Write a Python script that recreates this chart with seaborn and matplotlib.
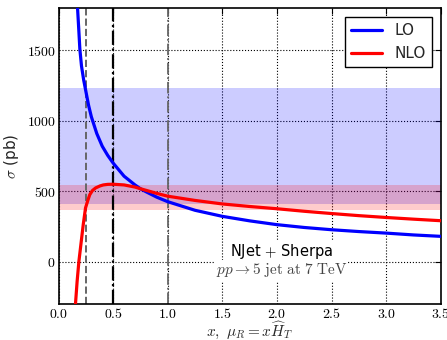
import matplotlib
matplotlib.use("Agg")
import matplotlib.pyplot as plt
import seaborn as sns
import pandas as pd
from matplotlib.ticker import FuncFormatter, MultipleLocator

# scale factor x and cross sections in pb
x_lo = [0.174, 0.185, 0.195, 0.21, 0.23, 0.25, 0.275, 0.3, 0.35, 0.4, 0.45,
        0.5, 0.6, 0.7, 0.75, 0.8, 0.9, 1.0, 1.25, 1.5, 1.75, 2.0, 2.25,
        2.5, 2.75, 3.0, 3.25, 3.5]
sigma_lo = [1800, 1650, 1510, 1390, 1290, 1210, 1110, 1030, 910, 820, 755,
            700, 607, 545, 518, 497, 458, 426, 365, 322, 290, 263, 243,
            227, 214, 203, 190, 180]

x_nlo = [0.155, 0.17, 0.186, 0.208, 0.226, 0.247, 0.27, 0.286, 0.31, 0.34,
         0.38, 0.41, 0.45, 0.5, 0.6, 0.7, 0.75, 0.8, 0.9, 1.0, 1.25, 1.5,
         1.75, 2.0, 2.25, 2.5, 2.75, 3.0, 3.25, 3.5]
sigma_nlo = [-300, -140, 0, 145, 263, 382, 440, 476, 505, 524,
             538, 545, 549, 550, 545, 530, 518, 507, 485, 465, 435, 410,
             392, 376, 358, 342, 327, 314, 302, 291]

# scale variation bands
band_lo = [412, 1230]
band_nlo = [365, 547]

# reference scale choices
scale_lines = [0.25, 0.5, 1.0]

lo = pd.DataFrame({"x": x_lo, "sigma": sigma_lo})
nlo = pd.DataFrame({"x": x_nlo, "sigma": sigma_nlo})

sns.set_style("white")
plt.rcParams["font.family"] = ["DejaVu Sans"]
plt.rcParams["mathtext.fontset"] = "cm"

fig, ax = plt.subplots(figsize=(4.47, 3.40), dpi=100)
fig.subplots_adjust(left=0.131, right=0.986, top=0.976, bottom=0.106)

ax.axhspan(band_lo[0], band_lo[1], color="blue", alpha=0.2, lw=0, zorder=1)
ax.axhspan(band_nlo[0], band_nlo[1], color="red", alpha=0.2, lw=0, zorder=1)

ax.axvline(scale_lines[0], color="#666666", ls="--", lw=1.4, zorder=1.6)
ax.axvline(scale_lines[1], color="black", ls="-.", lw=1.6, zorder=1.6)
ax.axvline(scale_lines[2], color="#666666", ls="-.", lw=1.3, zorder=1.6)

sns.lineplot(data=lo, x="x", y="sigma", color="blue", lw=2.3, label="LO",
             ax=ax, zorder=3)
sns.lineplot(data=nlo, x="x", y="sigma", color="red", lw=2.3, label="NLO",
             ax=ax, zorder=3)

ax.set_xlim(0, 3.5)
ax.set_ylim(-300, 1800)
ax.xaxis.set_major_locator(MultipleLocator(0.5))
ax.yaxis.set_major_locator(MultipleLocator(500))
ax.xaxis.set_major_formatter(FuncFormatter(lambda v, p: f"${v:.1f}$"))
ax.yaxis.set_major_formatter(FuncFormatter(lambda v, p: f"${v:.0f}$"))
ax.tick_params(direction="in", top=True, right=True, length=4, width=0.8,
               labelsize=10, colors="black", pad=2)
ax.grid(True, linestyle=":", color="black", lw=0.8)
for s in ax.spines.values():
    s.set_color("black")
    s.set_linewidth(1.2)

ax.set_xlabel(r"$x,\ \mu_R = x\widehat{H}_T$", fontsize=11, labelpad=-1)
ax.set_ylabel(r"$\sigma$ (pb)", fontsize=11, labelpad=4)

box = dict(facecolor="white", edgecolor="none", pad=1)
ax.text(2.04, 70, r"NJet $+$ Sherpa", ha="center", va="center",
        fontsize=10.5, color="black", bbox=box, zorder=4)
ax.text(2.04, -62, r"$pp \rightarrow 5\ \mathrm{jet\ at\ 7\ TeV}$",
        ha="center", va="center", fontsize=11, color="#444444",
        bbox=box, zorder=4)

leg = ax.legend(loc="upper right", fontsize=11, fancybox=False,
                framealpha=1, edgecolor="black", handlelength=2.0,
                borderaxespad=0.6)
leg.get_frame().set_linewidth(1.0)

fig.savefig("out.png", dpi=100)
